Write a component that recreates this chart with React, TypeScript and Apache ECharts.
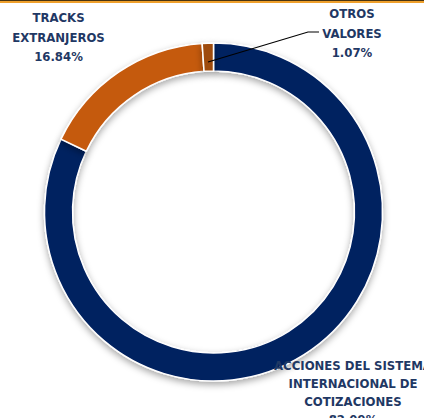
import React, { useEffect, useRef } from "react";
import * as echarts from "echarts";

const categories = [
  "ACCIONES DEL SISTEMA\nINTERNACIONAL DE\nCOTIZACIONES",
  "TRACKS\nEXTRANJEROS",
  "OTROS\nVALORES",
];
const values = [82.09, 16.84, 1.07];
const colors = ["#002060", "#C55A11", "#9E4C0E"];

export default function App() {
  const ref = useRef<HTMLDivElement>(null);
  useEffect(() => {
    if (!ref.current) return;
    const chart = echarts.init(ref.current, null, { renderer: "svg" });
    const labelPos: Record<number, { x: number; y: number }> = {
      0: { x: 353, y: 392 },
      1: { x: 58.5, y: 37 },
      2: { x: 352, y: 33 },
    };
    chart.setOption({
      animation: false,
      backgroundColor: "#ffffff",
      graphic: [
        { type: "rect", shape: { x: 0, y: 0, width: 424, height: 1 }, style: { fill: "#4a3410" } },
        { type: "rect", shape: { x: 0, y: 1, width: 424, height: 2 }, style: { fill: "#EFA02C" } },
        {
          type: "polyline",
          z: 10,
          shape: { points: [[208, 62], [308, 32], [319, 32]] },
          style: { stroke: "#000000", lineWidth: 1.2, fill: "none" },
        },
      ],
      series: [
        {
          type: "pie",
          center: [213.5, 212],
          radius: [141, 169],
          startAngle: 90,
          clockwise: true,
          avoidLabelOverlap: false,
          data: categories.map((name, i) => ({
            name,
            value: values[i],
            itemStyle: { color: colors[i] },
            label: i === 0 ? { lineHeight: 18 } : {},
          })),
          itemStyle: {
            borderColor: "#ffffff",
            borderWidth: 1.5,
            shadowBlur: 7,
            shadowColor: "rgba(0,0,0,0.35)",
            shadowOffsetY: 3,
          },
          label: {
            show: true,
            position: "outside",
            formatter: (p: any) => `${p.name}\n${p.value.toFixed(2)}%`,
            fontFamily: "DejaVu Sans Condensed, Liberation Sans Narrow, sans-serif",
            fontWeight: "bold",
            fontSize: 13,
            lineHeight: 19.5,
            color: "#1F3864",
            align: "center",
          },
          labelLine: { show: false },
          labelLayout: (params: any) => {
            const p = labelPos[params.dataIndex];
            return { x: p.x, y: p.y, align: "center", verticalAlign: "middle" };
          },
        },
      ],
    });
    return () => chart.dispose();
  }, []);
  return (
    <div
      ref={ref}
      style={{ position: "fixed", left: 0, top: 0, width: 424, height: 418 }}
    />
  );
}
